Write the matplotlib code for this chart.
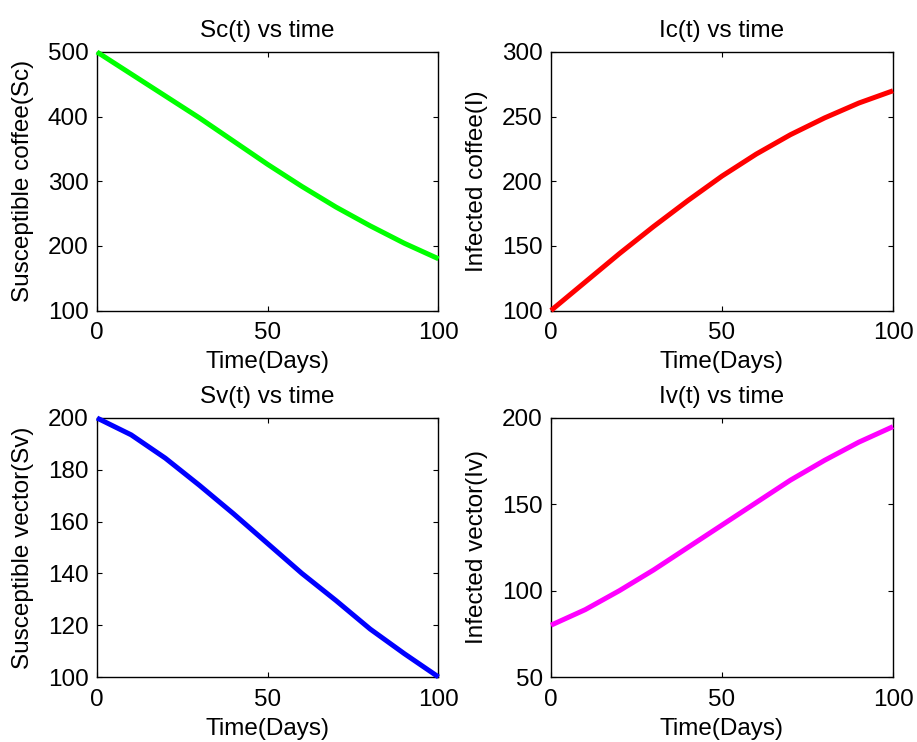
import matplotlib
matplotlib.use("Agg")
import matplotlib.pyplot as plt

plt.rcParams['font.family'] = ['Liberation Sans', 'DejaVu Sans']

time_days = [0, 10, 20, 30, 40, 50, 60, 70, 80, 90, 100]
sc_values = [500, 466, 432, 398, 362, 326, 292, 260, 231, 204, 180]
ic_values = [100, 122, 144, 165, 185, 204, 221, 236, 249, 260.5, 270]
sv_values = [200, 193.5, 184.5, 174, 163, 151.5, 140, 129.5, 118.5, 109, 100]
iv_values = [80, 89, 100, 112, 125, 138, 151, 164, 175.5, 186, 195]

titles = ["Sc(t) vs time", "Ic(t) vs time", "Sv(t) vs time", "Iv(t) vs time"]
ylabels = ["Susceptible coffee(Sc)", "Infected coffee(I)",
           "Susceptible vector(Sv)", "Infected vector(Iv)"]
xlabel = "Time(Days)"
xticks = [0, 50, 100]
yticks = [[100, 200, 300, 400, 500],
          [100, 150, 200, 250, 300],
          [100, 120, 140, 160, 180, 200],
          [50, 100, 150, 200]]
series = [sc_values, ic_values, sv_values, iv_values]
colors = ["#00ff00", "#ff0000", "#0000ff", "#ff00ff"]

W, H = 917, 742
fig = plt.figure(figsize=(W / 100, H / 100), dpi=100)

boxes = [(97, 52, 438.5, 310.5), (551, 52, 893, 310.5),
         (97, 418, 438.5, 677), (551, 418, 893, 677)]

FS = 17.5
for i, (x0, y0, x1, y1) in enumerate(boxes):
    ax = fig.add_axes([x0 / W, 1 - y1 / H, (x1 - x0) / W, (y1 - y0) / H])
    ax.plot(time_days, series[i], color=colors[i], lw=3.6, solid_capstyle='butt',
            solid_joinstyle='round', clip_on=False, zorder=3)
    ax.set_xlim(0, 100)
    ax.set_ylim(yticks[i][0], yticks[i][-1])
    ax.set_xticks(xticks)
    ax.set_yticks(yticks[i])
    ax.tick_params(direction='in', length=3.5, width=0.8, top=True, right=True,
                   labelsize=FS, color='black')
    ax.tick_params(axis='x', pad=8.5)
    ax.tick_params(axis='y', pad=6)
    for s in ax.spines.values():
        s.set_linewidth(1.0)
        s.set_color('black')
    ax.set_title(titles[i], fontsize=FS, pad=10.5)
    ax.set_xlabel(xlabel, fontsize=FS, labelpad=5)
    ax.set_ylabel(ylabels[i], fontsize=FS, labelpad=10)

fig.savefig("out.png", dpi=100)
